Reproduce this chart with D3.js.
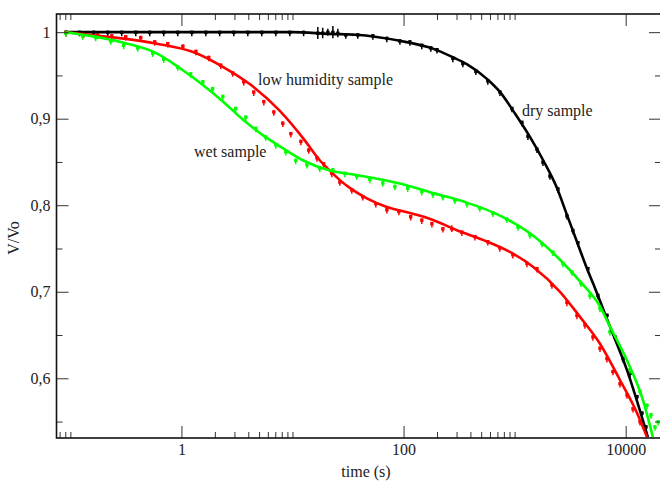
<!DOCTYPE html>
<html lang="en">
<head>
<meta charset="UTF-8">
<title>V/Vo vs time</title>
<script src="https://d3js.org/d3.v7.min.js"></script>
<style>
  body { margin: 0; background: #fff; }
  text { font-family: "Liberation Serif", "Times New Roman", serif; font-size: 16px; fill: #222; }
</style>
</head>
<body>
<svg id="chart" width="660" height="485"></svg>
<script>
// fitted curves [time s, V/Vo]
const dryFit = [[0.091,1.000],[1,1.000],[10,1.000],[21.7,0.998],[37.2,0.997],[92.6,0.990],[184,0.981],[278,0.971],[371,0.963],[563,0.946],[738,0.931],[1007,0.906],[1374,0.879],[1808,0.852],[2387,0.821],[2938,0.790],[3614,0.759],[4446,0.728],[5072,0.710],[7206,0.660],[10240,0.610],[15850,0.532]]
const humidFit = [[0.091,1.000],[0.208,0.995],[0.586,0.987],[1.345,0.976],[2.36,0.960],[4.12,0.940],[7.69,0.909],[12.9,0.875],[17.6,0.852],[21.7,0.840],[26.7,0.829],[32.8,0.820],[46.7,0.808],[70.7,0.798],[114,0.791],[184,0.783],[302,0.771],[518,0.760],[907,0.746],[1462,0.729],[2562,0.700],[3879,0.671],[5872,0.640],[8890,0.598],[12650,0.560],[15560,0.532]]
const wetFit = [[0.091,1.000],[0.146,0.996],[0.296,0.988],[0.587,0.976],[1.03,0.956],[1.56,0.939],[2.36,0.920],[3.57,0.899],[5.40,0.881],[8.18,0.866],[12.4,0.852],[21.7,0.840],[37.2,0.835],[92.6,0.825],[184,0.814],[372,0.803],[738,0.788],[1462,0.765],[2560,0.737],[3880,0.712],[5872,0.683],[7210,0.660],[10250,0.621],[14290,0.575],[17580,0.532]]

// measured points [time s, V/Vo, error]
const dryPoints = [[0.091,1.000],[0.121,1.000],[0.162,1.000],[0.217,1.000],[0.290,1.000],[0.388,1.000],[0.518,1.000],[0.693,1.000],[0.926,1.000],[1.24,1.000],[1.66,1.000],[2.21,1.000],[2.96,1.000],[3.96,1.000],[5.29,1.000],[7.08,1.000],[9.46,1.000],[12.6,1.000],
  [16.9,0.999,0.007],[18.7,0.999,0.006],[20.8,1.000,0.004],[23.1,1.000,0.007],[25.6,0.999,0.005],
  [30.2,0.997],[38.7,0.997],[52.9,0.996],[70.7,0.993],[92.7,0.990],[114,0.989],[146,0.985],[176,0.982],[200,0.980],[278,0.970],[342,0.964],[448,0.955],[574,0.944],[738,0.931],[946,0.912],[1164,0.896],[1318,0.880],[1589,0.865],[1799,0.850],[2080,0.834],[2455,0.819],[2958,0.788],[3350,0.771],[3716,0.757],[4571,0.727],[5623,0.696],[6792,0.673],[8017,0.648],[9462,0.623],[10940,0.606],[12650,0.579],[14030,0.560],[15240,0.544]]
const humidPoints = [[0.091,1.000],[0.132,0.998],[0.176,0.997],[0.236,0.996],[0.315,0.995],[0.430,0.994],[0.575,0.989],[0.753,0.987],[1.03,0.984],[1.35,0.978],[1.76,0.971],[2.26,0.962],[2.90,0.953],[3.64,0.943],[4.48,0.931],[5.52,0.920],[6.79,0.908],[8.18,0.895],[9.66,0.883],[11.9,0.874],[14.0,0.864],[16.6,0.855],[19.1,0.848],[22.6,0.837],[26.7,0.827],[34.2,0.818],[43.0,0.810],[56.3,0.802],[70.8,0.795],[90.8,0.793],[116,0.787],[146,0.783],[180,0.779],[226,0.773],[272,0.773,0.004],[335,0.769],[439,0.764],[574,0.758],[736,0.751],[964,0.743],[1291,0.733],[1589,0.727],[2168,0.708],[2958,0.688],[3639,0.673],[4296,0.662],[5070,0.648],[5870,0.635],[6780,0.623],[7680,0.608],[8890,0.594],[10280,0.581],[11640,0.565],[13460,0.550]]
const wetPoints = [[0.091,0.999],[0.129,0.996],[0.169,0.994],[0.231,0.990],[0.302,0.985],[0.404,0.982],[0.551,0.976],[0.693,0.969],[0.925,0.960],[1.21,0.952],[1.56,0.943],[1.91,0.935],[2.36,0.926],[3.08,0.912],[3.80,0.902],[4.67,0.889],[5.74,0.879],[7.08,0.870],[8.71,0.862],[10.7,0.852],[13.5,0.847],[17.6,0.843],[23.1,0.841],[29.6,0.837],[37.9,0.834],[49.7,0.830],[65.1,0.826],[83.6,0.822],[109,0.820],[146,0.816],[184,0.813],[226,0.810],[290,0.806],[372,0.802],[486,0.797],[638,0.791],[853,0.784],[1072,0.775],[1374,0.766],[1762,0.756],[2213,0.746],[2723,0.733],[3281,0.723],[3955,0.710],[4768,0.696],[5870,0.681],[7210,0.654],[8890,0.633],[10940,0.610],[13460,0.585],[15560,0.569],[16900,0.558],[18370,0.544],[19590,0.550]]

const xMajor = [1, 100, 10000]
const xMinor = [0.08, 0.09, 0.1, 2, 3, 4, 5, 6, 7, 8, 9, 10, 200, 300, 400, 500, 600, 700, 800, 900, 1000]
const yMajor = [0.6, 0.7, 0.8, 0.9, 1.0]
const yMinor = [0.55, 0.65, 0.75, 0.85, 0.95]

const seriesNames = ["dry sample", "low humidity sample", "wet sample"]
const seriesColors = ["#000000", "#ff0000", "#00ff00"]

const svg = d3.select("#chart")
const plotLeft = 56.5, plotRight = 661, plotTop = 14, plotBottom = 438

const x = d3.scaleLog().domain([0.075, 20800]).range([plotLeft, plotRight])
const y = d3.scaleLinear().domain([0.531, 1.021]).range([plotBottom, plotTop])

svg.append("defs").append("clipPath").attr("id", "plotClip")
  .append("rect").attr("x", plotLeft).attr("y", plotTop)
  .attr("width", plotRight - plotLeft).attr("height", plotBottom - plotTop)

const fits = [dryFit, humidFit, wetFit]
const points = [dryPoints, humidPoints, wetPoints]

const line = d3.line()
  .x(d => x(d[0]))
  .y(d => y(d[1]))
  .curve(d3.curveMonotoneX)

const plot = svg.append("g").attr("clip-path", "url(#plotClip)")

// measured points first, fitted line on top
points.forEach((pts, i) => {
  const g = plot.append("g").attr("fill", seriesColors[i]).attr("stroke", seriesColors[i])
  const m = g.selectAll("g").data(pts).join("g")
    .attr("transform", d => "translate(" + x(d[0]) + "," + y(d[1]) + ")")
  m.append("line")
    .attr("y1", d => d[2] ? y(d[1] + d[2]) - y(d[1]) : -1.5)
    .attr("y2", d => d[2] ? y(d[1] - d[2]) - y(d[1]) : 4)
    .attr("stroke-width", 1.5)
  m.append("rect")
    .attr("x", -1.7).attr("y", -1.5).attr("width", 3.4).attr("height", 3.4)
    .attr("stroke", "none")
})

fits.forEach((f, i) => {
  plot.append("path").datum(f)
    .attr("fill", "none")
    .attr("stroke", seriesColors[i])
    .attr("stroke-width", 2.6)
    .attr("d", line)
})

// axes, all ticks pointing inward
function yLabel(d) {
  return d === 1 ? "1" : d.toFixed(1).replace(".", ",")
}

function drawAxis(axis, tx, ty, values, size, fmt) {
  const g = svg.append("g")
    .attr("transform", "translate(" + tx + "," + ty + ")")
    .call(axis.tickValues(values).tickSizeInner(size).tickSizeOuter(0).tickPadding(6).tickFormat(fmt))
  g.select(".domain").remove()
  g.selectAll("line").attr("stroke", "#333").attr("stroke-width", 1)
  g.selectAll("text").attr("font-family", null).attr("font-size", null).attr("fill", "#222")
  return g
}

drawAxis(d3.axisBottom(x), 0, plotBottom, xMajor, -12, d => d3.format("d")(d))
drawAxis(d3.axisBottom(x), 0, plotBottom, xMinor, -6, () => "")
drawAxis(d3.axisTop(x), 0, plotTop, xMajor, -12, () => "")
drawAxis(d3.axisTop(x), 0, plotTop, xMinor, -6, () => "")
drawAxis(d3.axisLeft(y), plotLeft, 0, yMajor, -12, yLabel)
drawAxis(d3.axisLeft(y), plotLeft, 0, yMinor, -6, () => "")
drawAxis(d3.axisRight(y), plotRight, 0, yMajor, -12, () => "")
drawAxis(d3.axisRight(y), plotRight, 0, yMinor, -6, () => "")

svg.append("rect")
  .attr("x", plotLeft).attr("y", plotTop)
  .attr("width", plotRight - plotLeft).attr("height", plotBottom - plotTop)
  .attr("fill", "none").attr("stroke", "#111").attr("stroke-width", 1.6)

// axis titles
svg.append("text").attr("x", 366).attr("y", 477).attr("text-anchor", "middle").text("time (s)")
svg.append("text")
  .attr("transform", "translate(19,238) rotate(-90)")
  .attr("text-anchor", "middle")
  .text("V/Vo")

// curve labels
svg.append("text").attr("x", 522).attr("y", 116).text(seriesNames[0])
svg.append("text").attr("x", 258).attr("y", 85).text(seriesNames[1])
svg.append("text").attr("x", 194).attr("y", 157).text(seriesNames[2])
</script>
</body>
</html>
